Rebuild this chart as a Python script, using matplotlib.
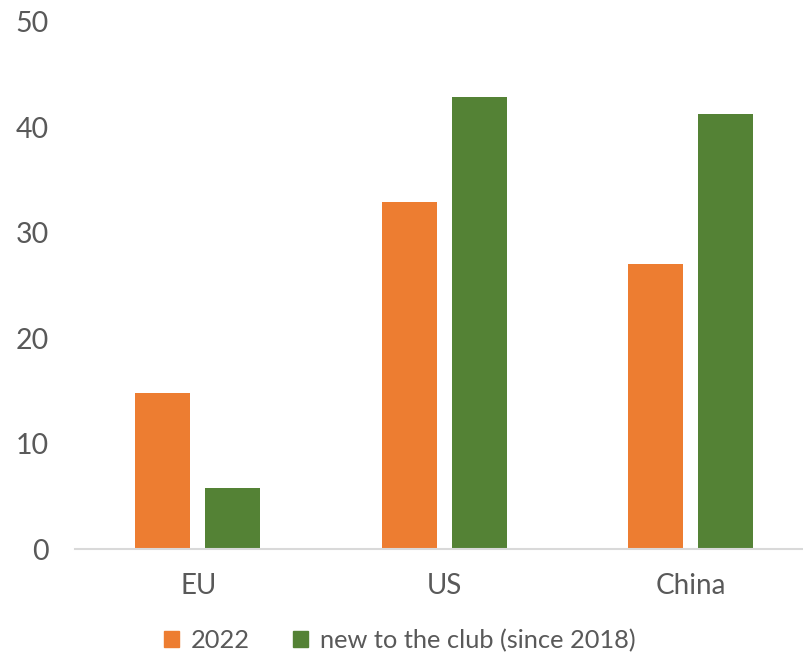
import numpy as np
import matplotlib
matplotlib.use("Agg")
import matplotlib.pyplot as plt
from matplotlib.patches import Patch

# dados do grafico
categorias = ["EU", "US", "China"]
valores_2022 = [14.8, 32.9, 27.0]
valores_novos = [5.8, 42.9, 41.3]
series = ["2022", "new to the club (since 2018)"]

plt.rcParams["font.family"] = ["Lato", "DejaVu Sans"]

cor_laranja = "#ED7D31"
cor_verde = "#548235"
cor_texto = "#595959"

fig = plt.figure(figsize=(8.04, 6.6), dpi=100)
ax = fig.add_axes([75 / 804, 111 / 660, 729 / 804, (549 - 22) / 660])

x = np.arange(len(categorias))
largura = 0.223
ax.bar(x - 0.144, valores_2022, largura, color=cor_laranja)
ax.bar(x + 0.140, valores_novos, largura, color=cor_verde)

ax.set_xlim(-0.5, 2.458)
ax.set_ylim(0, 50)
ax.set_yticks([0, 10, 20, 30, 40, 50])
ax.set_xticks(x)
ax.set_xticklabels(categorias)

for lado in ["top", "right", "left"]:
    ax.spines[lado].set_visible(False)
ax.spines["bottom"].set_color("#D9D9D9")
ax.spines["bottom"].set_linewidth(1.5)

ax.tick_params(axis="y", length=0, pad=19, labelsize=20.5, labelcolor=cor_texto)
ax.tick_params(axis="x", length=0, pad=17, labelsize=20, labelcolor=cor_texto)

handles = [Patch(color=cor_laranja), Patch(color=cor_verde)]
fig.legend(handles, series, loc="center", bbox_to_anchor=(0.497, 0.03),
           ncol=2, frameon=False, fontsize=18.3, labelcolor=cor_texto,
           handlelength=0.6, handleheight=0.6, handletextpad=0.45,
           columnspacing=1.7)

fig.savefig("out.png", dpi=100)
